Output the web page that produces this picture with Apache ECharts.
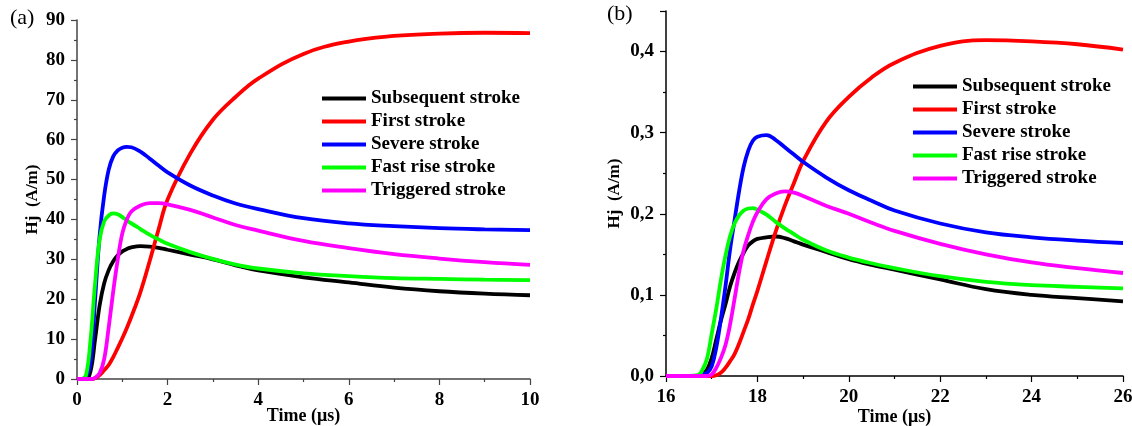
<!DOCTYPE html>
<html>
<head>
<meta charset="utf-8">
<script src="https://cdn.jsdelivr.net/npm/echarts@6/dist/echarts.min.js"></script>
<style>
  html, body { margin: 0; padding: 0; background: #fff; }
  #chart { width: 1132px; height: 426px; }
</style>
</head>
<body>
<div id="chart"></div>
<script>
var seriesNames = ['Subsequent stroke', 'First stroke', 'Severe stroke', 'Fast rise stroke', 'Triggered stroke'];
var seriesColors = ['#000000', '#ff0000', '#0000ff', '#00ff00', '#ff00ff'];

// (a) 0 - 10 us
var timeA = [0, 0.1, 0.2, 0.3, 0.4, 0.5, 0.6, 0.7, 0.8, 0.9, 1.0, 1.1, 1.2, 1.4, 1.6, 1.8, 2.0, 2.5, 3.0, 3.5, 4.0, 5.0, 6.0, 7.0, 8.0, 9.0, 10.0];
var subsequentA = [0, 0, 0, 2, 10, 18.5, 24, 27.3, 29.5, 31, 32, 32.6, 33, 33.3, 33.2, 32.9, 32.4, 31.2, 30.0, 28.5, 27.2, 25.5, 24.2, 22.9, 22.0, 21.4, 21.0];
var firstA = [0, 0, 0, 0, 0.2, 1, 2.2, 3.5, 5.5, 7.8, 10.2, 12.8, 15.6, 21.8, 29.4, 37.5, 45, 56.5, 65, 70.7, 75.3, 81.5, 84.6, 86, 86.6, 86.8, 86.7];
var severeA = [0, 0, 0.5, 4, 20, 36, 46, 52.5, 55.8, 57.3, 58, 58.2, 58.1, 57, 55.3, 53.5, 51.8, 48.5, 46, 44, 42.6, 40.3, 39.0, 38.3, 37.8, 37.5, 37.3];
var fastA = [0, 0, 1, 10, 24, 35, 39.5, 41, 41.5, 41.3, 40.6, 39.8, 39.0, 37.6, 36.2, 35.0, 33.9, 31.8, 30.1, 28.7, 27.7, 26.5, 25.8, 25.3, 25.1, 24.9, 24.8];
var triggeredA = [0, 0, 0, 0, 0.3, 1.5, 5, 13, 22, 30, 36.5, 40, 42, 43.5, 44.1, 44.1, 43.8, 42.4, 40.5, 38.6, 37.2, 34.6, 32.8, 31.3, 30.2, 29.3, 28.6];

// (b) 16 - 26 us
var timeB = [16, 16.5, 16.7, 16.8, 16.9, 17.0, 17.1, 17.2, 17.3, 17.4, 17.5, 17.6, 17.7, 17.8, 17.9, 18.0, 18.2, 18.4, 18.6, 18.8, 19.0, 19.5, 20, 20.5, 21, 22, 23, 24, 25, 26];
var subsequentB = [0, 0, 0, 0.002, 0.008, 0.022, 0.045, 0.068, 0.088, 0.11, 0.127, 0.141, 0.152, 0.161, 0.166, 0.169, 0.171, 0.172, 0.17, 0.166, 0.162, 0.153, 0.144, 0.137, 0.131, 0.119, 0.107, 0.1, 0.096, 0.092];
var firstB = [0, 0, 0, 0, 0, 0, 0.001, 0.004, 0.01, 0.018, 0.027, 0.04, 0.055, 0.07, 0.088, 0.105, 0.142, 0.178, 0.21, 0.238, 0.265, 0.313, 0.344, 0.368, 0.386, 0.407, 0.414, 0.4125, 0.409, 0.4025];
var severeB = [0, 0, 0, 0.002, 0.004, 0.012, 0.035, 0.07, 0.11, 0.155, 0.192, 0.228, 0.258, 0.278, 0.29, 0.295, 0.297, 0.291, 0.282, 0.273, 0.264, 0.245, 0.229, 0.216, 0.204, 0.188, 0.177, 0.171, 0.167, 0.164];
var fastB = [0, 0, 0.001, 0.008, 0.022, 0.052, 0.083, 0.118, 0.148, 0.172, 0.188, 0.198, 0.204, 0.2065, 0.207, 0.205, 0.199, 0.19, 0.182, 0.175, 0.168, 0.155, 0.146, 0.139, 0.133, 0.123, 0.116, 0.112, 0.11, 0.108];
var triggeredB = [0, 0, 0, 0, 0, 0.002, 0.01, 0.022, 0.038, 0.063, 0.095, 0.128, 0.155, 0.174, 0.19, 0.202, 0.218, 0.225, 0.2275, 0.226, 0.222, 0.21, 0.2, 0.189, 0.179, 0.163, 0.15, 0.14, 0.133, 0.127];

var valuesA = [subsequentA, firstA, severeA, fastA, triggeredA];
var valuesB = [subsequentB, firstB, severeB, fastB, triggeredB];

function pairs(times, values) {
    return times.map(function (t, i) { return [t, values[i]]; });
}

var font = 'Liberation Serif, Times New Roman, serif';
var boldText = { fontFamily: font, fontWeight: 'bold', fontSize: 19, color: '#000' };

function makeAxis(color, extra) {
    var axis = {
        type: 'value',
        axisLine: { show: true, lineStyle: { color: color, width: 1.5 } },
        axisTick: { show: true, inside: false, length: 6, lineStyle: { color: color, width: 1.2 } },
        minorTick: { show: true, splitNumber: 2, length: 3, lineStyle: { color: color, width: 1.2 } },
        splitLine: { show: false },
        axisLabel: { fontFamily: font, fontWeight: 'bold', fontSize: 19, color: '#000', margin: 12 },
        nameLocation: 'middle',
        nameMoveOverlap: false,
        nameTextStyle: { fontFamily: font, fontWeight: 'bold', fontSize: 18, color: '#000' }
    };
    for (var k in extra) { axis[k] = extra[k]; }
    return axis;
}

var series = [];
seriesNames.forEach(function (name, i) {
    series.push({
        name: name, type: 'line', xAxisIndex: 0, yAxisIndex: 0,
        data: pairs(timeA, valuesA[i]), showSymbol: false, symbol: 'none',
        smooth: 0.4,
        lineStyle: { color: seriesColors[i], width: 3.8 }, itemStyle: { color: seriesColors[i] }
    });
    series.push({
        name: name, type: 'line', xAxisIndex: 1, yAxisIndex: 1,
        data: pairs(timeB, valuesB[i]), showSymbol: false, symbol: 'none',
        smooth: 0.4,
        lineStyle: { color: seriesColors[i], width: 3.8 }, itemStyle: { color: seriesColors[i] }
    });
});

var legendBase = {
    orient: 'vertical',
    data: seriesNames,
    icon: 'rect',
    itemWidth: 44,
    itemHeight: 4,
    itemGap: 4,
    padding: 0,
    selectedMode: false,
    textStyle: boldText
};

var nameStyleY = { fontFamily: font, fontWeight: 'bold', fontSize: 17, color: '#000' };

var option = {
    animation: false,
    backgroundColor: '#fff',
    title: [
        { text: '(a)', left: 10, top: 7, padding: 0, textStyle: { fontFamily: font, fontWeight: 'normal', fontSize: 22, color: '#000' } },
        { text: '(b)', left: 607, top: 3, padding: 0, textStyle: { fontFamily: font, fontWeight: 'normal', fontSize: 22, color: '#000' } }
    ],
    legend: [
        Object.assign({}, legendBase, { left: 322, top: 89 }),
        Object.assign({}, legendBase, { left: 913, top: 77 })
    ],
    grid: [
        { left: 77, top: 20, width: 453, bottom: 47, outerBoundsMode: 'none' },
        { left: 666, top: 11, width: 457, bottom: 50, outerBoundsMode: 'none' }
    ],
    xAxis: [
        makeAxis('#444', { gridIndex: 0, min: 0, max: 10, interval: 2, name: 'Time (μs)', nameGap: 28 }),
        makeAxis('#000', { gridIndex: 1, min: 16, max: 26, interval: 2, name: 'Time (μs)', nameGap: 32 })
    ],
    yAxis: [
        makeAxis('#444', { gridIndex: 0, min: 0, max: 90, interval: 10, name: 'Hj  (A/m)', nameGap: 36, nameTextStyle: nameStyleY }),
        makeAxis('#000', {
            gridIndex: 1, min: 0, max: 0.45, interval: 0.1, name: 'Hj  (A/m)', nameGap: 43, nameTextStyle: nameStyleY,
            axisLabel: {
                fontFamily: font, fontWeight: 'bold', fontSize: 19, color: '#000', margin: 12, showMaxLabel: false,
                formatter: function (v) {
                    var r = Math.round(v * 10);
                    if (Math.abs(v * 10 - r) > 1e-6) return '';
                    return (r / 10).toFixed(1).replace('.', ',');
                }
            }
        })
    ],
    series: series
};

var chart = echarts.init(document.getElementById('chart'));
chart.setOption(option);
</script>
</body>
</html>
